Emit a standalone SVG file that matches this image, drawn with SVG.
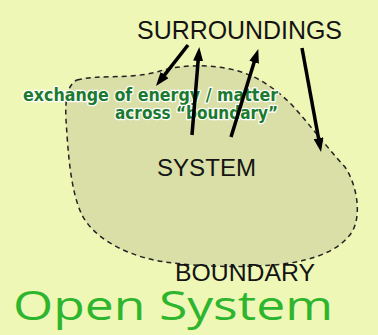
<svg xmlns="http://www.w3.org/2000/svg" width="378" height="335" viewBox="0 0 378 335">
  <style>
    .lbl { font-family: "Liberation Sans", Arial, sans-serif; fill: #141414; }
    .note { font-family: "DejaVu Sans Condensed", "DejaVu Sans", sans-serif; font-stretch: condensed; font-weight: 700; font-size: 18px; fill: #1b7a2e; stroke: #ffffff; stroke-width: 2.5; stroke-linejoin: round; paint-order: stroke; }
    .arrow { fill: none; stroke: #000; stroke-width: 3.5; stroke-linecap: butt; marker-end: url(#head); }
  </style>
  <defs>
    <marker id="head" viewBox="0 0 14 10" refX="6" refY="5" markerWidth="14" markerHeight="10" markerUnits="userSpaceOnUse" orient="auto">
      <path d="M0,0 L14,5 L0,10 z" fill="#000"/>
    </marker>
  </defs>
  <rect x="0" y="0" width="378" height="335" fill="#eff7b6"/>
  <g id="system">
    <path d="M 77,80 C 100,74 130,80 160,71 C 180,65 205,64 230,69 C 255,74 275,88 292,105 C 310,125 325,145 345,167 C 357,185 362,215 352,232 C 340,250 315,260 283,264 C 250,268 200,267 165,262 C 130,257 95,240 82,215 C 70,190 68,150 66,120 C 65,100 67,85 77,80 Z" fill="#d9dfa7" stroke="#222" stroke-width="1.5" stroke-dasharray="5 4"/>
    <text class="lbl" x="157" y="176" font-size="23.5" textLength="99" lengthAdjust="spacingAndGlyphs">SYSTEM</text>
  </g>
  <g id="surroundings">
    <text class="lbl" x="137" y="39" font-size="25" textLength="205" lengthAdjust="spacingAndGlyphs">SURROUNDINGS</text>
  </g>
  <g id="boundary">
    <text class="lbl" x="175" y="281" font-size="24" textLength="140" lengthAdjust="spacingAndGlyphs">BOUNDARY</text>
  </g>
  <g id="exchange-note">
    <text class="note" x="23" y="101" textLength="255" lengthAdjust="spacingAndGlyphs">exchange of energy / matter</text>
    <text class="note" x="115" y="119" textLength="163" lengthAdjust="spacingAndGlyphs">across “boundary”</text>
  </g>
  <g id="connectors">
    <path class="arrow" d="M188,45 L160.9,79.7"/>
    <path class="arrow" d="M192,135 L198.6,55"/>
    <path class="arrow" d="M231,137 L255.9,56.6"/>
    <path class="arrow" d="M302,48 L319.6,144.1"/>
  </g>
  <g id="title">
    <text x="13" y="320" font-family="'Open Sans', 'Noto Sans', sans-serif" font-size="41" fill="#2eb52e" textLength="320" lengthAdjust="spacingAndGlyphs">Open System</text>
  </g>
</svg>
